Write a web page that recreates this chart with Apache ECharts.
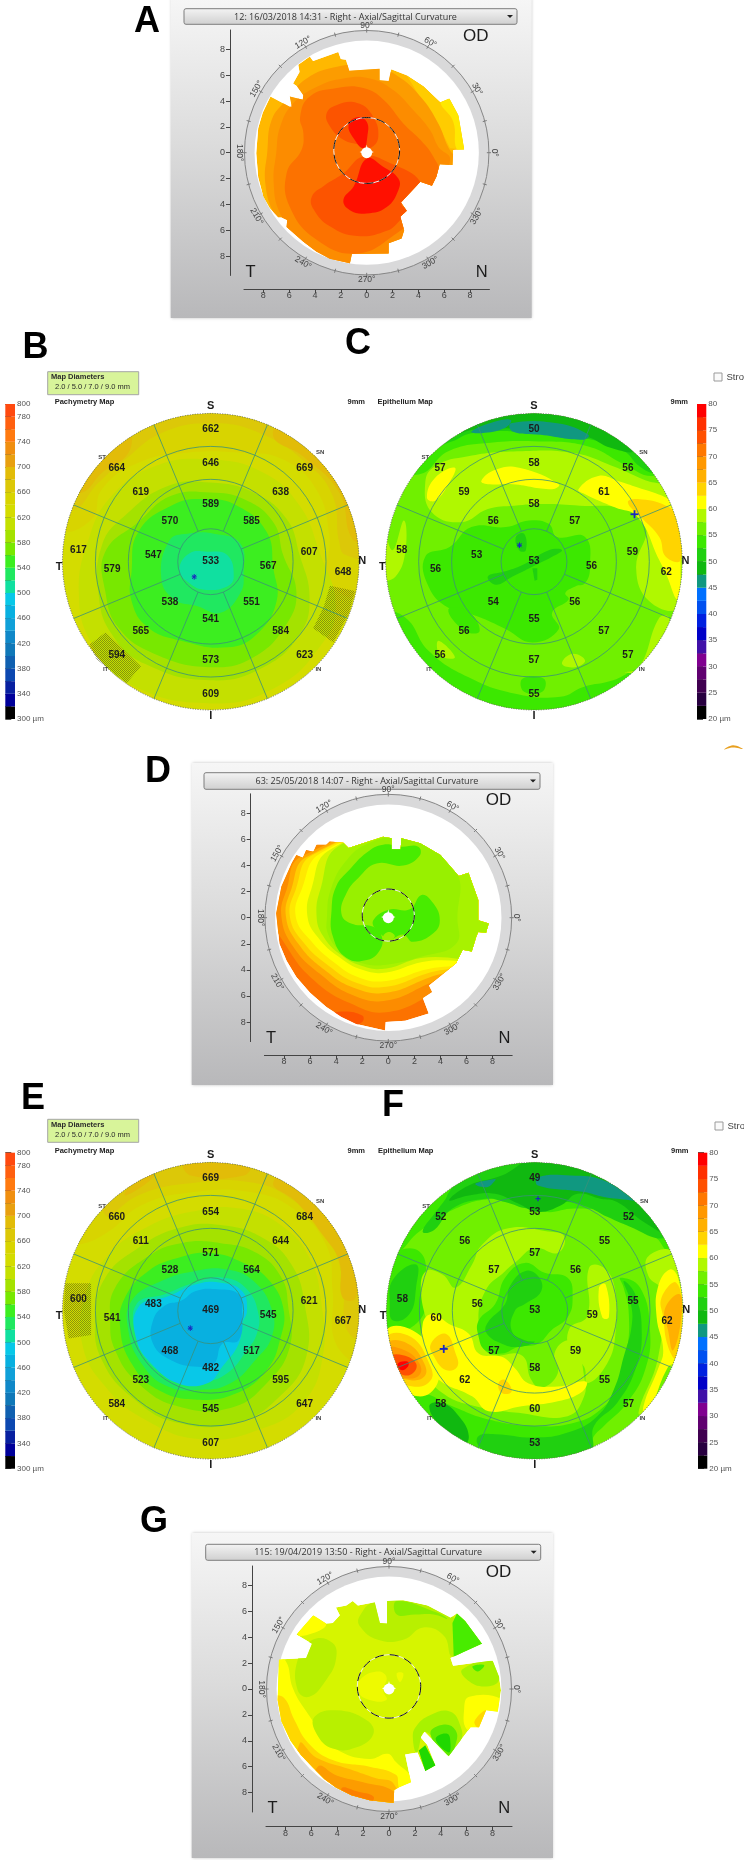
<!DOCTYPE html>
<html><head><meta charset="utf-8">
<style>html,body{margin:0;padding:0;background:#fff}#c{width:744px;height:1860px}</style>
<script src="https://cdn.jsdelivr.net/npm/echarts@6/dist/echarts.min.js"></script>
</head><body><div id="c"></div>
<script>
// ---------- scales ----------
const pachyLevels=[300,320,340,360,380,400,420,440,460,480,500,520,540,560,580,600,620,640,660,680,700,720,740,760,780];
const pachyShades=['#000000','#00009a','#0820a0','#0c48b0','#1060b0','#1078b8','#1088c8','#10a0d8','#08b0e0','#08c8e8','#10e0a0','#20e860','#3cee20','#78e800','#a4e200','#c4e000','#d4dc00','#d8d400','#dcc808','#e2bc08','#e8a010','#f08f10','#ff7a10','#ff6010','#ff4a10'];
const epiLevels=[20,22.5,25,27.5,30,32.5,35,37.5,40,42.5,45,47.5,50,52.5,55,57.5,60,62.5,65,67.5,70,72.5,75,77.5];
const epiShades=['#000000','#280040','#400050','#600070','#800090','#4010a8','#0000c8','#0020e0','#0050f0','#0070ff','#109880','#10b810','#20d010','#3ce800','#70f000','#b0f800','#ffff00','#ffd400','#ffb000','#ff9800','#ff7800','#ff5000','#ff3000','#ff0000'];
const curvLevels=[36,37,38,39,40,41,42,43,44,45,46,47,48,49,50,51,52,53,54,55,56];
const curvShades=['#20d800','#48ec00','#60ea00','#88ee00','#98f000','#a8f200','#b8f000','#d6f500','#eefa00','#ffff00','#ffe800','#ffd800','#ffcc00','#ffb800','#ffa800','#fc9c00','#fc8c00','#fc8000','#fc7200','#fc5400','#ff1000'];
const pachyTickLabels=[800,780,740,700,660,620,580,540,500,460,420,380,340,300];
const epiTickLabels=[80,75,70,65,60,55,50,45,40,35,30,25,20];
const axisEven=[-8,-6,-4,-2,0,2,4,6,8];
const axisOdd=[-9,-7,-5,-3,-1,1,3,5,7,9];
const ringAngles=[0,30,60,90,120,150,180,210,240,270,300,330];
const ringTicks=[0,15,30,45,60,75,90,105,120,135,150,165,180,195,210,225,240,255,270,285,300,315,330,345];
const centerStar=[[0,.62],[.1,.22],[.55,.06],[.2,-.1],[.2,-.3],[-.2,-.3],[-.2,-.1],[-.55,.06],[-.1,.22]];

// ---------- sector readings (clockwise from S: S, SN, N, IN, I, IT, T, ST) ----------
const B_center=533, B_inner=[589,585,567,551,541,538,547,570], B_mid=[646,638,607,584,573,565,579,619], B_outer=[662,669,648,623,609,594,617,664];
const C_center=53, C_inner=[58,57,56,56,55,54,53,56], C_mid=[58,61,59,57,57,56,56,59], C_outer=[50,56,62,57,55,56,58,57];
const E_center=469, E_inner=[571,564,545,517,482,468,483,528], E_mid=[654,644,621,595,545,523,541,611], E_outer=[669,684,667,647,607,584,600,660];
const F_center=53, F_inner=[57,56,59,59,58,57,56,57], F_mid=[53,55,55,55,60,62,60,56], F_outer=[49,52,62,57,53,58,58,52];

// ---------- A: curvature contours in mm ----------
const A_scan=[[-2.2,7.8],[-2,7.25],[-1.6,7.2],[-1.35,6.35],[1,6.5],[1,5.6],[1.7,5.55],[1.9,6.45],[3.1,6],[4.4,5.15],[5.7,3.9],[6.4,4.2],[7.1,2.9],[7.55,.25],[6.7,.2],[6.65,-.95],[5.65,-.9],[5.4,-1.85],[5.05,-2.55],[4.15,-2.25],[2.65,-3.85],[3.1,-4.5],[2.6,-4.95],[2.9,-6],[2.7,-6.65],[1.7,-7],[1.7,-7.8],[-1.15,-7.85],[-1.3,-8.55],[-2.85,-8.2],[-3.9,-7.65],[-4.9,-6.9],[-6.2,-5.75],[-6.15,-5.2],[-6.6,-5],[-6.85,-5],[-7.5,-4.3],[-8,-3.4],[-8.4,-1.9],[-8.55,-.05],[-8.4,1.9],[-8.05,3.1],[-7.45,4.35],[-5.95,3.55],[-5.8,3.55],[-5.95,4.35],[-4.95,4.1],[-4.9,4.45],[-5.4,5.15],[-5.7,5.35],[-5.2,6.25],[-5.3,6.8],[-4.4,7.45],[-4.15,7.1]];
const A_gold=[[3.1,6],[4.4,5.15],[5.7,3.9],[6.4,4.2],[7.1,2.9],[7.55,.25],[6.45,.35],[5.55,2.15],[4.15,4.25]];
const A_yellow=[[5.7,3.9],[6.4,4.2],[7.1,2.9],[7.55,.25],[6.95,.3],[6.7,2.4]];
const A_c1=[[-7.7,0],[-7.35,2.55],[-6.2,4.1],[-4.65,5.75],[-2.3,6.65],[.25,6.8],[2.3,6],[4.15,4.35],[5.55,2.25],[6.3,.45],[7.5,-1.6],[4.9,-6.25],[-.25,-9.35],[-5.4,-7.8],[-7.2,-4.7],[-7.85,-2.35]];
const A_c2=[[-7,0],[-6.7,2],[-5.7,3.8],[-3.85,5.1],[-1.8,5.75],[.25,5.75],[2.05,4.85],[3.6,3.3],[4.9,1.75],[5.55,.45],[6.45,-.55],[4.9,-4.7],[-.25,-9.35],[-4.9,-7.3],[-6.7,-4.7],[-7.2,-2.35]];
const A_c3=[[-5.05,.2],[-4.9,1.5],[-5.15,2.8],[-4.4,4.35],[-2.3,5],[-.25,5],[1.3,4.1],[2.85,2.25],[4.15,1],[5.15,-.3],[5.55,-1.6],[3.85,-4.7],[2.3,-6.25],[-.75,-7.8],[-3.85,-6.75],[-5.95,-4.2],[-6.2,-1.6]];
const A_c4up=[[-3.1,3.05],[-2.3,3.7],[-.75,3.85],[.4,2.95],[.9,1.25],[.25,.35],[-.5,.6],[-1.8,1],[-2.85,2.05]];
const A_c4low=[[-4.25,-3.4],[-3.35,-2.6],[-1.8,-1.6],[-.25,-.3],[1.8,-.8],[4.15,-2.25],[3.6,-3.4],[2.7,-3.95],[3.1,-4.55],[2.6,-5.2],[1.55,-6.05],[-.75,-6.45],[-2.85,-5.7],[-4.1,-4.4]];
const A_c5up=[[-1.4,2.15],[-.75,2.75],[0,2.4],[.05,1.25],[-.25,.35],[-1,1.1]];
const A_c5low=[[-1.8,-3.65],[-1,-2.6],[0,-.45],[1.3,-1.1],[2.45,-2],[2.45,-2.9],[1.55,-4.2],[0,-4.7],[-1.3,-4.45]];

// ---------- D ----------
const D_scan=[[-7.05,4.8],[-6.55,4.6],[-6.3,5.2],[-5.75,5.05],[-5.5,5.6],[-4.75,5.6],[-4.5,5.85],[-3.45,5.75],[-3.05,5.35],[-.4,6.2],[.25,6.1],[.25,5.25],[.95,5.25],[1,6.1],[2.45,5.7],[4,4.8],[5.4,3.2],[6.15,3.45],[6.9,1.35],[6.9,-.2],[7.7,-.45],[7.5,-1.15],[6.9,-1.1],[6.75,-1.45],[6.4,-2.6],[5.7,-2.45],[5.2,-3.5],[3.1,-5.2],[3.35,-5.7],[2.65,-6.15],[3.1,-7.35],[1.3,-7.9],[-.2,-8],[-.25,-8.65],[-2.45,-8.15],[-3.6,-7.6],[-4.75,-6.85],[-6,-5.75],[-7.05,-4.55],[-7.8,-3.3],[-8.35,-2],[-8.6,.35],[-8.2,2.4],[-7.4,4.2]];
const D_deep=[[-3.6,-7.2],[-2,-7.5],[-2,-8],[-3,-8.3],[-4.5,-7.6]];
const D_k1=[[-8.85,.1],[-8.35,2.15],[-6.95,4.95],[3.7,7.75],[8.85,5.2],[8.85,-2.5],[3.45,-5.8],[-.15,-7.25],[-2.95,-6.55],[-5.75,-4.75],[-7.8,-2.2]];
const D_k2=[[-8.2,.1],[-7.8,2.15],[-6.65,4.7],[3.7,7.75],[8.85,5.2],[8.85,-2.5],[3.2,-5],[-.15,-6.35],[-2.7,-5.95],[-5.25,-4.3],[-7.3,-2.2]];
const D_k3=[[-7.85,.1],[-7.45,2.15],[-6.2,4.7],[3.7,7.75],[8.85,5.2],[8.85,-2.5],[3.1,-4.6],[-.15,-5.75],[-2.6,-5.4],[-4.9,-4],[-6.9,-2]];
const D_k4=[[-7.55,.1],[-7.1,2.15],[-5.8,4.8],[3.7,7.75],[8.85,5.2],[8.85,-2.5],[2.9,-4.3],[-.15,-5.3],[-2.4,-5],[-4.55,-3.7],[-6.5,-1.9]];
const D_k5=[[-7.1,.1],[-6.65,2.15],[-5.1,5],[3.7,7.75],[8.85,5.2],[8.85,-2.5],[2.8,-4],[-.15,-4.85],[-2.2,-4.6],[-4.2,-3.4],[-6,-1.7]];
const D_k6=[[-6.2,.1],[-5.9,2.2],[-4.5,5.2],[3.7,7.75],[8.85,5.2],[8.85,-2.5],[2.6,-3.4],[-.15,-4.2],[-2,-4],[-3.8,-3],[-5.4,-1.5]];
const D_k7=[[-5.5,.1],[-5.2,2.2],[-3.8,5.5],[3.7,7.75],[8.85,5.2],[8.85,-2.5],[2.5,-3.1],[-.15,-3.9],[-2,-3.7],[-3.7,-2.8],[-5,-1.4]];
const D_k8=[[-4.7,.1],[-4.4,2.2],[-3.2,4.4],[-1.5,5.7],[1,6.2],[3,5.6],[5.3,3.4],[5.3,0],[5.2,-2],[2.5,-3],[-.15,-3.6],[-2,-3.5],[-3.6,-2.6],[-4.6,-1.3]];
const D_arc=[[1,5.45],[2.3,5.45],[2.4,4.75],[1.15,4],[-.9,4.15],[-2.3,3.05],[-3.2,1.9],[-3.6,.35],[-2.85,-.45],[-1.15,-.7],[-.5,-1.45],[-.65,-2.5],[-1.65,-3.25],[-3.2,-3.1],[-4.25,-1.45],[-4.35,.6],[-4,2.4],[-3,3.65],[-1.65,5],[-.4,5.6]];
const D_blob=[[0,.6],[1.65,.65],[2.55,1.75],[3.45,1.1],[3.95,-.2],[3.45,-1.2],[1.9,-1.85],[1.15,-1.3],[.15,-1.6],[-.9,-.95],[-1.15,-.2]];
const D_spot=[[0,-1.1],[.5,-1.4],[.1,-1.7],[-.4,-1.5]];

// ---------- G ----------
const G_scan=[[-.15,6.8],[1.1,6.85],[2.95,6.45],[4.75,5.5],[5.25,5.85],[5.9,5.25],[7.2,3.5],[4.75,2.4],[4.95,1.8],[8,2.2],[8.5,.95],[8.65,-.1],[8.4,-1.75],[7.5,-1.65],[6.95,-2.95],[6.3,-2.95],[4.6,-5.2],[2.75,-3.3],[2.45,-3.75],[2.95,-4.3],[3.6,-5.9],[2.8,-6.35],[2.2,-4.9],[1.25,-5.05],[1.7,-7.2],[.75,-7.6],[.4,-7.8],[.35,-8.8],[-1.5,-8.6],[-2.9,-8.2],[-4.1,-7.6],[-5,-6.95],[-5.9,-6.05],[-6.8,-5.1],[-7.6,-4],[-8.3,-2.5],[-8.6,-.85],[-8.5,2.25],[-8.2,2.3],[-6.4,2.4],[-5.95,3.5],[-7.15,4.2],[-5.85,5.7],[-4.85,5.05],[-4.35,5.1],[-3.8,5.7],[-4.1,6.3],[-3.3,6.45],[-2.8,6.8],[-2.4,6.45],[-1.1,6.7],[-.7,5.1],[-.15,5.05]];
const G_y1=[[-8.9,2.3],[-8,2.2],[-7.4,0],[-6.2,-2],[-5,-3.6],[-3.8,-4.8],[-1.5,-5.4],[-.1,-5],[.5,-5.6],[1.8,-7],[1.8,-9],[-9,-9]];
const G_o1=[[-8.9,-.7],[-8.1,-.7],[-7.3,-2.4],[-6.2,-4.2],[-4.3,-5.5],[-1.5,-6],[.5,-6.6],[.7,-7.3],[.7,-9],[-9,-9]];
const G_o2=[[-6.9,-4.2],[-5.6,-5.3],[-3,-6.2],[-1,-6.9],[.35,-7.3],[.5,-9],[-7,-9]];
const G_o3=[[-5.5,-6],[-4,-6.7],[-2,-7.2],[.35,-7.9],[.5,-9],[-6,-9]];
const G_o4=[[-3.6,-7.6],[-2.5,-7.9],[-1.2,-8.3],[-1.5,-8.8],[-3.5,-8.2]];
const G_l1=[[-5.9,3.8],[-4.35,3.55],[-4.1,2.25],[-4.85,.7],[-6.15,-.6],[-7.05,-.1],[-7.05,2.25]];
const G_l2=[[-5.75,-2.15],[-4.05,-1.65],[-1.75,-2.4],[-1.2,-3.45],[-2.5,-4.5],[-4.35,-4.6],[-5.6,-3.45]];
const G_l3=[[-2.25,5.65],[-1.1,6.7],[2.95,6.45],[5.55,5.1],[6.3,3.8],[4.9,2.5],[4.25,4.1],[2.65,4.75],[1.1,3.8],[-.85,3.8],[-2.25,4.85]];
const G_l4=[[.6,6.8],[3.7,5.9],[4.5,5.4],[3.45,5.75],[2,5.75],[.6,5.75]];
const G_g1=[[4.9,5.1],[5.25,5.85],[5.9,5.25],[7.2,3.5],[5,2.45]];
const G_r1=[[5.65,1.5],[8,2.15],[8.5,.7],[7.35,.2],[6.05,.7]];
const G_r2=[[6.45,1.75],[7.35,1.85],[6.85,1.35]];
const G_b1=[[2.05,-2.95],[3.2,-2],[4.75,-1.75],[5.55,-2.95],[5.55,-4],[4.6,-5.25],[2.8,-3.3],[2.15,-4.9],[1.85,-3.9]];
const G_b2=[[3.2,-3.45],[4.25,-2.75],[5.15,-3.2],[5.15,-4.25],[4.6,-5.15]];
const G_b3=[[3.6,-3.85],[4.5,-3.45],[4.75,-4.25],[4.6,-4.9]];
const G_w1=[[2.3,-4.75],[2.8,-4.35],[3.6,-5.9],[2.8,-6.35]];
const G_ry=[[6.2,-.6],[8.7,-.8],[8.5,-1.9],[6.95,-3.05],[6,-3.1],[5.8,-1.6]];
const G_ro=[[7.5,-1.65],[7,-3],[6.6,-2.5]];
const G_cy=[[-2.25,.7],[-.95,1.35],[-.2,.95],[-.45,-.1],[-.2,-.85],[-1.5,-.85],[-2.4,-.2]];
const G_cy2=[[.6,1.2],[1.1,1.2],[.85,.55]];
const G_uy=[[-7.05,4.2],[-5.9,5.65],[-4.85,5],[-5.9,4.3]];

// ---------- B: pachymetry contours ----------
const B_g1=[[-4.5,1],[-3.6,1.3],[-3.3,2.2],[-2.2,3],[-.8,3.3],[1,3.3],[2.2,3.1],[3.2,2.2],[3.6,.8],[3.6,-.6],[4.6,-1],[5,3],[0,5],[-5,3]];
const B_g2=[[-4.2,1.6],[-3.4,2.4],[-2.6,3.1],[-1.5,3.9],[0,4.2],[1.5,3.9],[2.9,3],[3.7,2],[3.9,.6],[4.1,.2],[5,.2],[5,3],[0,5],[-5,3]];
const B_g3a=[[-3.9,2.1],[-3.3,2.7],[-2.5,3.3],[-2.5,3.9],[-3.6,3.4],[-4.4,2.3]];
const B_g3b=[[1.9,3.8],[2.8,3.2],[3.9,2.1],[4.3,.7],[4.8,.7],[4.6,3],[2.4,4.4]];
const B_p1=[[3.3,.3],[2.7,1.7],[1.6,2.7],[0,3.1],[-1.7,2.9],[-3,2],[-3.7,.7],[-4,-1],[-3.6,-2.5],[-2.5,-3.7],[0,-4.3],[2,-3.8],[3.3,-2.6],[3.8,-1.4]];
const B_p2=[[2.7,.2],[2.3,1.3],[1.3,2.1],[0,2.4],[-1.3,2.3],[-2.6,1.4],[-3.3,.5],[-3.4,-1],[-3,-2.2],[-2,-3.1],[0,-3.6],[1.6,-3.2],[2.7,-2.2],[3,-1.1]];
const B_p3=[[2.2,.2],[1.9,1.2],[1,1.9],[0,2.1],[-1.2,2],[-2.2,1.2],[-3.2,.3],[-3.2,-.9],[-2.8,-2],[-1.7,-2.8],[0,-3.2],[1.3,-2.9],[2.3,-1.9],[2.6,-.9]];
const B_p4=[[1.9,-.2],[1.7,.9],[.8,1.7],[-.2,1.9],[-1.2,1.7],[-2.2,.9],[-2.4,-.3],[-2.4,-1.2],[-1.9,-2],[-.9,-2.4],[.5,-2.6],[1.4,-2.2],[2,-1.2]];
const B_p5=[[-1.25,.65],[-.7,.85],[.1,.85],[.9,.55],[1,-.35],[.9,-.95],[.3,-1.55],[-.4,-1.35],[-1.1,-1.15],[-1.5,-.5]];
const B_p6=[[-.65,.25],[-.1,.3],[.5,.2],[.7,-.45],[.5,-.75],[-.2,-.85],[-.65,-.65],[-.95,-.25]];
const B_hatchN=[[3.62,-.73],[4.38,-.89],[4.2,-1.56],[3.72,-2.45],[3.11,-2.02],[3.43,-1.37]];
const B_hatchI=[[-3.19,-2.14],[-2.12,-3.18],[-2.55,-3.68],[-3.46,-2.97],[-3.68,-2.52]];

// ---------- C: epithelium contours ----------
const C_t1=[[-3.5,2.65],[-2.6,3.35],[-1.4,3.6],[.15,3.65],[1.65,3.5],[2.75,2.95],[3.6,2.6],[5,3],[3,5],[-3,5],[-5,3]];
const C_t2=[[-2.5,3.65],[-1.9,3.9],[-.45,3.95],[1.15,3.8],[2.15,3.6],[2.75,3.35],[3.2,2.9],[3.7,2.7],[5,3],[3,5],[-3,5],[-3.2,3.5]];
const C_t3=[[-2.75,3.7],[-1.9,4],[-.85,4.05],[1.55,3.8],[2.35,3.45],[3,3.4],[2,5],[-1,5],[-1.9,4.4]];
const C_te1=[[-1.9,3.95],[-1.2,4.25],[-.7,4.3],[-.9,4.05],[-1.6,3.9]];
const C_te2=[[-.7,4.2],[.7,4.2],[1.65,3.85],[1.5,3.7],[.2,3.85],[-.65,3.95]];
const C_bot=[[-4.6,-1.6],[-3.9,-1.7],[-3.2,-2.7],[-2,-3.5],[-.6,-4],[.8,-4.1],[1.5,-3.8],[2.4,-3.6],[3,-3.3],[3.7,-3],[5,-3],[0,-5],[-5,-3]];
const C_y1a=[[-3.1,1.5],[-3.3,2.4],[-3,2.9],[-2,3.2],[-.5,3.35],[1.2,3.3],[2.4,2.9],[3.3,2.5],[4.2,2.1],[4.6,0],[4.4,-1.4],[3.5,-1.2],[3.1,-.2],[3.4,1.1],[2.7,1.6],[1.4,1.7],[.3,1.75],[-.6,1.7],[-1.4,1.6],[-2.2,1.2]];
const C_y1b=[[-4.3,.35],[-3.95,1.25],[-3.9,.35],[-4.2,-.45],[-4.6,-.5],[-4.6,1.3]];
const C_y1c=[[.85,-3.1],[1.15,-2.8],[1.55,-3],[1.25,-3.2]];
const C_y1d=[[-2.9,-2.4],[-2.4,-2.9],[-2.85,-2.85]];
const C_y1e=[[2.75,-3.35],[3.2,-3.2],[3.8,-1.7],[4.1,-1.7],[3.9,-2.6],[3.4,-3.3]];
const C_y2a=[[-3.25,1.95],[-3,2.55],[-2.4,2.85],[-2.6,2.35],[-3,1.85]];
const C_y2b=[[-1.6,2.45],[-1.15,2.8],[-.45,2.85],[.75,2.35],[.55,2.2],[-.65,2.35],[-1.35,2.35]];
const C_y2c=[[1.35,2.2],[1.95,2.6],[2.55,2.45],[3.15,2.25],[4,1.95],[4.15,1.8],[4.35,1.45],[4.45,-.55],[4.35,-1.15],[4,-.35],[3.8,.05],[3.15,1.35],[2.45,1.65],[1.55,2.05]];
const C_gold=[[2.85,1.8],[3.15,1.9],[4,1.7],[4.35,1.35],[4.45,.05],[4,.15],[3.8,.75],[3.25,1.35]];
const C_mid1=[[-2.55,.45],[-1.9,1.05],[-.85,1.05],[-.15,1.25],[.45,1.15],[.7,.75],[1.55,.75],[1.7,-.15],[1.55,-.65],[1.25,-.75],[.95,-.95],[1.05,-1.15],[.55,-1.55],[.75,-2.05],[-.05,-2.45],[-.85,-2.05],[-1.75,-1.65],[-2.6,-1.4],[-3.2,-.75],[-3.3,.15]];
const C_mid2=[[-2.6,-1.45],[-2,-1.5],[-1.65,-2.1],[-2.1,-2.1]];
const C_mid3=[[-.35,-3.55],[.3,-3.55],[.25,-3.95],[-.3,-3.95]];
const C_core1=[[-1.4,-.45],[-.9,-.3],[-.35,-.1],[.45,.35],[.85,.35],[.55,.15],[-.05,-.15],[-.65,-.45],[-1.15,-.7]];
const C_core2=[[-.05,-.2],[.1,-.2],[.1,-.55],[.02,-.58]];
const C_core3=[[-.55,.75],[-.3,.85],[-.25,.35],[-.45,.35]];

// ---------- E ----------
const E_g2=[[-4,2],[-3.1,2.4],[-2.1,3.2],[-.5,3.6],[1.2,3.6],[2.5,3.1],[3.5,2],[3.7,.6],[3.8,-1],[4.6,-1.5],[5,2],[0,5],[-5,2]];
const E_g3=[[-3.2,2.9],[-2.2,3.5],[-.8,3.85],[1.2,3.9],[2.5,3.35],[3.5,2.3],[4,1],[4.1,-.5],[4.5,-.8],[5,3],[0,5],[-3,4.4]];
const E_g4a=[[1.9,3.9],[2.6,3.3],[3.4,2.3],[3.9,1.5],[4,.4],[4.4,.4],[4.5,2.5],[3,4.5]];
const E_g4b=[[-1.7,4.1],[-2.6,3.5],[-2.1,4.2]];
const E_g4c=[[-.6,4.1],[1,4.1],[1.2,4.5],[-.8,4.5]];
const E_c1=[[3.35,.3],[3,1.6],[2.2,2.55],[.9,3.1],[-.6,3],[-2,2.5],[-3.1,1.7],[-3.8,.5],[-3.9,-1],[-3.2,-2.3],[-2,-3.3],[-.3,-3.9],[1.5,-3.6],[2.8,-2.8],[3.4,-1.4]];
const E_c2=[[2.85,.2],[2.45,1.4],[1.6,2.2],[.3,2.6],[-1,2.5],[-2.2,1.9],[-3.2,1],[-3.5,-.2],[-3.3,-1.5],[-2.3,-2.7],[-1,-3.4],[.8,-3.4],[2.1,-2.6],[2.9,-1.4]];
const E_c3=[[2.35,.15],[2.15,1],[1.4,1.75],[.3,2.05],[-.9,2.05],[-1.9,1.65],[-2.9,.7],[-3.05,-.3],[-2.9,-1.2],[-2.2,-2.2],[-1,-2.9],[.6,-2.95],[1.7,-2.2],[2.4,-1.1]];
const E_c4=[[2.2,.1],[1.7,1],[1,1.45],[0,1.75],[-1,1.6],[-1.9,1.2],[-2.6,.4],[-2.75,-.5],[-2.4,-1.6],[-1.6,-2.4],[-.4,-2.7],[.8,-2.5],[1.7,-1.8],[2.1,-.9]];
const E_c5=[[1.85,.05],[1.3,.9],[.5,1.25],[-.5,1.2],[-1.5,.9],[-2.4,.3],[-2.5,-.6],[-2.1,-1.6],[-1.3,-2.3],[-.3,-2.4],[.6,-2.2],[1.35,-1.5],[1.85,-.8]];
const E_c6=[[1.45,-.1],[1.1,.65],[.4,1],[-.5,.85],[-1.4,.5],[-2.25,.2],[-2.25,-.8],[-1.85,-1.6],[-1.1,-2.05],[-.2,-2.15],[.5,-1.9],[1.1,-1.2],[1.4,-.7]];
const E_c7=[[1.1,0],[.95,.6],[.3,.85],[-.45,.8],[-1.25,.45],[-2.2,.1],[-2.25,-.9],[-1.8,-1.6],[-1,-2.2],[-.1,-2.2],[.35,-1.7],[.85,-1],[.95,-.4]];
const E_c8=[[.95,0],[.85,.5],[.2,.65],[-.45,.6],[-.9,.3],[-1.4,.15],[-1.75,-.3],[-1.75,-1],[-1.2,-1.5],[-.4,-1.7],[.1,-1.6],[.35,-1],[.85,-.9]];
const E_hatchT=[[-4.41,.83],[-3.63,.83],[-3.63,-.74],[-4.31,-.84],[-4.46,.02]];

// ---------- F ----------
const F_t1=[[-4.3,1.7],[-3.5,2.4],[-2.4,3.1],[-1.3,3.4],[-.5,3.3],[.3,3],[1.2,3.1],[2.2,3],[3,2.7],[3.7,2.2],[4.1,1.8],[5,2],[3,5],[-3,5],[-5,2]];
const F_t2=[[-3.4,2.4],[-3,3],[-2.7,3.4],[-2.6,3.6],[-2.3,3.9],[0,4.6],[3,3.5],[4,2.3],[3.7,2.2],[3,2.5],[2.2,2.85],[1.6,3.15],[.9,3.3],[.5,3.15],[-.2,3.1],[-.9,3.3],[-1.5,3.4],[-2.5,3.1],[-3.05,2.45]];
const F_t3=[[-2.6,3.35],[-2,3.8],[-1,4.1],[0,4.6],[2,4.4],[3.2,3.4],[3.9,2.4],[3.3,2.7],[2.5,3.3],[2,3.4],[1.3,3.55],[.8,3.2],[.1,3],[-.5,3.25],[-1.2,3.55],[-2,3.5]];
const F_te1=[[-1.8,3.85],[-1.2,4],[-1.2,3.95],[-1.45,3.75]];
const F_te2=[[.1,4.05],[1.1,4.1],[2.1,3.95],[3.2,3.3],[2.9,3.35],[2.1,3.45],[1.5,3.6],[.1,3.8]];
const F_lh=[[-4.5,.3],[-4.4,1.6],[-3.5,1.8],[-3.3,.7],[-3.5,-.3],[-4.4,-.6]];
const F_ld=[[-4.4,.2],[-4.3,.95],[-3.6,1.4],[-3.6,.7],[-3.8,-.1],[-4.3,-.3]];
const F_band1=[[2.6,1],[3.2,.7],[3.5,-.6],[3.35,-1.8],[2.8,-2.8],[2.1,-3.5],[1.75,-3.9],[1.6,-4.6],[0,-5],[-2,-5],[-3.5,-4],[-3.9,-2.6],[-3.4,-2.5],[-2.5,-2.9],[-1.4,-3.3],[0,-3.5],[1.2,-3.4],[2,-3],[2.5,-2.3],[2.8,-1.2],[2.85,0],[2.7,.7]];
const F_band2=[[2.7,.9],[3.05,.5],[3.25,-.7],[3.05,-1.8],[2.5,-2.8],[1.8,-3.5],[1.7,-4.3],[.8,-4.6],[-1,-4.5],[-1.7,-4.1],[-1.7,-3.8],[-1.2,-3.75],[0,-3.85],[1,-3.7],[1.9,-3.2],[2.4,-2.4],[2.7,-1.4],[2.95,-.4],[2.9,.3]];
const F_band3=[[-3.2,-2.9],[-2.8,-2.8],[-2.3,-3.2],[-2,-3.8],[-2.2,-4.1],[-2.8,-3.6]];
const F_b1=[[-3.45,.55],[-3.3,1.2],[-2.8,1.1],[-2.4,.7],[-1.9,1.4],[-1.6,2],[-.8,2.5],[.4,2.4],[.9,2.25],[.7,1.75],[0,1.9],[-.55,1.5],[-.9,1.2],[-1.5,.6],[-1.7,-.4],[-1.4,-1.3],[-.4,-1.35],[-.1,-2.1],[.2,-2.35],[.7,-1.9],[.6,-1.3],[1,-.9],[1.3,-1.2],[1.5,-2],[1.5,-2.6],[1,-3.2],[-.5,-3.1],[-1.8,-2.9],[-2.8,-2.5],[-3.3,-1.8],[-3.2,-.8]];
const F_b2=[[1.05,-.55],[1.6,-.15],[1.65,1.3],[2.1,1.3],[2.45,.6],[2.45,-.7],[2.2,-1.6],[1.6,-2.2],[1.5,-1.7],[1.1,-1.3]];
const F_b3=[[3.45,1.65],[4.2,1.75],[4.45,-.4],[4.2,-1.7],[3.9,-1.7],[3.45,-3],[3.15,-3.1],[3.75,-1.4],[3.85,.6],[3.45,1.05]];
const F_y1=[[-3.4,-.4],[-3.1,-.1],[-2.6,-.4],[-2,-.7],[-1.7,-1.3],[-1,-1.4],[-.6,-1.75],[-.2,-2.2],[.7,-2.3],[1.55,-2.15],[1.45,-2.45],[.7,-2.75],[-.4,-2.9],[-1.4,-3.05],[-1.9,-2.6],[-2.9,-2.1],[-3.3,-1.5]];
const F_h1=[[-4.5,-.6],[-3.7,-.6],[-3.05,-1.4],[-2.95,-2.2],[-3.55,-2.6],[-4.5,-2]];
const F_h2=[[-4.5,-.8],[-3.75,-.8],[-3.2,-1.6],[-3.15,-2.1],[-3.7,-2.3],[-4.5,-1.9]];
const F_h3=[[-4.5,-1],[-3.85,-1],[-3.35,-1.6],[-3.35,-2],[-3.8,-2.1],[-4.5,-1.8]];
const F_h4=[[-4.5,-1.15],[-3.95,-1.2],[-3.5,-1.6],[-3.5,-1.95],[-3.9,-2.05],[-4.3,-1.85]];
const F_h5=[[-4.4,-1.4],[-4,-1.35],[-3.6,-1.6],[-3.7,-1.9],[-4,-1.95],[-4.2,-1.75]];
const F_h6=[[-4.15,-1.6],[-3.85,-1.55],[-3.85,-1.7],[-4.05,-1.8]];
const F_g1=[[-3.15,-1],[-2.7,-.7],[-2.4,-1.3],[-2.35,-1.7],[-2.7,-1.8],[-3.05,-1.4]];
const F_g2=[[-1.1,-2.2],[-.9,-2.1],[-.7,-2.45],[-1,-2.5]];
const F_ry=[[3.75,.75],[4.1,1.25],[4.35,1],[4.5,-.2],[4.3,-1.55],[4.05,-1.7],[3.55,-2.9],[3.35,-3.25],[3.3,-2.9],[3.75,-1.75],[3.9,-1.2],[3.7,-.2]];
const F_rg=[[3.85,.4],[4.3,.85],[4.47,-.2],[4.3,-1.45],[4.05,-1.1],[3.9,-.2]];
const F_ro=[[3.95,.05],[4.4,.5],[4.45,-.2],[4.2,-1.2],[4.05,-.6]];
const F_stripe=[[1.95,.7],[2.15,.8],[2.25,-.2],[2.05,-.2]];
const F_c1=[[-1.7,-.3],[-1.2,.2],[-.9,1],[-.3,1.45],[.3,1.15],[1,1],[1.15,.4],[1,-.2],[.5,-.6],[.1,-1],[-.5,-1.1],[-1,-1.3],[-1.5,-1.2],[-1.7,-.8]];
const F_c2=[[-1.45,-.4],[-.9,.2],[-.75,.75],[-.3,1.2],[.1,1.05],[.2,.6],[-.3,.2],[-.6,0],[-.7,-.6],[-.3,-.9],[0,-.95],[-.5,-1.1],[-1,-1],[-1.45,-.7]];

// ---------- band stacks: [level, contour, smooth?] ----------
const S=.45;
const A_bands=[[49,A_scan,0],[48,A_gold,0],[46,A_yellow,S],[51,A_c1,S],[52,A_c2,S],[54,A_c3,S],[55,A_c4up,S],[55,A_c4low,S],[56,A_c5up,S],[56,A_c5low,S]];
const D_bands=[[54,D_scan,0],[55,D_deep,S],[52,D_k1,S],[50,D_k2,S],[48,D_k3,S],[46,D_k4,S],[45,D_k5,S],[43,D_k6,S],[41,D_k7,S],[40,D_k8,S],[37,D_arc,S],[37,D_blob,S],[40,D_spot,S]];
const G_bands=[[43,G_scan,0],[45,G_y1,S],[47,G_o1,S],[49,G_o2,S],[51,G_o3,S],[53,G_o4,S],[45,G_uy,S],[42,G_l1,S],[42,G_l2,S],[42,G_l3,S],[39,G_l4,S],[37,G_g1,0],[41,G_r1,S],[37,G_r2,S],[41,G_b1,S],[38,G_b2,S],[36,G_b3,S],[36,G_w1,0],[45,G_ry,S],[47,G_ro,S],[44,G_cy,S],[44,G_cy2,S]];
const B_bands=[[640,B_g1,S],[660,B_g2,S],[680,B_g3a,S],[680,B_g3b,S],[600,B_p1,S],[580,B_p2,S],[560,B_p3,S],[540,B_p4,S],[520,B_p5,S],[500,B_p6,S]];
const C_bands=[[52.5,C_t1,S],[50,C_t2,S],[47.5,C_t3,S],[45,C_te1,S],[45,C_te2,S],[52.5,C_bot,S],[57.5,C_y1a,S],[57.5,C_y1b,S],[57.5,C_y1c,S],[57.5,C_y1d,S],[57.5,C_y1e,S],[60,C_y2a,S],[60,C_y2b,S],[60,C_y2c,S],[62.5,C_gold,S],[52.5,C_mid1,S],[52.5,C_mid2,S],[52.5,C_mid3,S],[50,C_core1,S],[50,C_core2,0],[50,C_core3,S]];
const E_bands=[[640,E_g2,S],[660,E_g3,S],[680,E_g4a,S],[680,E_g4b,S],[680,E_g4c,S],[600,E_c1,S],[580,E_c2,S],[560,E_c3,S],[540,E_c4,S],[520,E_c5,S],[500,E_c6,S],[480,E_c7,S],[460,E_c8,S]];
const F_bands=[[52.5,F_t1,S],[50,F_t2,S],[47.5,F_t3,S],[45,F_te1,S],[45,F_te2,S],[52.5,F_lh,S],[50,F_ld,S],[52.5,F_band1,S],[50,F_band2,S],[47.5,F_band3,S],[57.5,F_b1,S],[57.5,F_b2,S],[57.5,F_b3,S],[60,F_y1,S],[60,F_h1,S],[62.5,F_h2,S],[65,F_h3,S],[67.5,F_h4,S],[72.5,F_h5,S],[77.5,F_h6,S],[62.5,F_g1,S],[62.5,F_g2,S],[60,F_ry,S],[62.5,F_rg,S],[65,F_ro,S],[60,F_stripe,S],[52.5,F_c1,S],[50,F_c2,S]];

// ---------- markers (mm) ----------
const labelRadii=[1.75,3,4.03];
const labelAngles=[[90,45,-4.3,-45,-90,-135,174,135],[90,45,5.4,-45,-90,-135,184.4,135],[90,45,-4.6,-45,-90,-135,175,135]];
const sectorLineAngles=[22.5,67.5,112.5,157.5,202.5,247.5,292.5,337.5];
const ringRadii=[1,2.5,3.5];
const compassLetters=[['S',0,4.72],['I',0,-4.67],['T',-4.6,-.17],['N',4.6,.03]];
const quadrantLetters=[['ST',-3.3,3.18],['SN',3.32,3.31],['IT',-3.19,-3.28],['IN',3.27,-3.28]];

// ---------- helpers ----------
const FONT='"Liberation Sans",Arial,sans-serif';
const grids=[],xAxes=[],yAxes=[],series=[],graphic=[];
const ptsOf=(api,pts)=>pts.map(p=>api.coord(p));
const deg=a=>a*Math.PI/180;

function addCustom(g,n,render,z){
  series.push({type:'custom',coordinateSystem:'cartesian2d',xAxisIndex:g.x,yAxisIndex:g.y,silent:true,
    animation:false,z:z||2,data:Array.from({length:n},(_,i)=>[i,0]),renderItem:render});
}
function scaleColor(levels,shades,l){return shades[levels.indexOf(l)];}

function addText(x,y,text,o){
  graphic.push({type:'text',x,y,z:o&&o.z||1,silent:true,style:Object.assign({text,fill:'#222',font:'9px '+FONT,align:'left',verticalAlign:'middle'},o||{})});
}
function panelBack(x,y,w,h){
  graphic.push({type:'rect',x,y,z:-5,silent:true,shape:{width:w,height:h},style:{fill:{type:'linear',x:0,y:0,x2:0,y2:1,colorStops:[{offset:0,color:'#f6f6f6'},{offset:.45,color:'#dcdcdc'},{offset:1,color:'#b8b8ba'}]},shadowBlur:3,shadowColor:'rgba(0,0,0,.25)'}});
}
function dropdown(x,y,w,h,text){
  graphic.push({type:'rect',x,y,z:-4,silent:true,shape:{width:w,height:h,r:2},style:{fill:{type:'linear',x:0,y:0,x2:0,y2:1,colorStops:[{offset:0,color:'#f4f4f4'},{offset:1,color:'#cfcfcf'}]},stroke:'#7d7d7d',lineWidth:1}});
  addText(x+w*.485,y+h/2+.5,text,{align:'center',font:'9px "Open Sans",sans-serif',fill:'#333'});
  graphic.push({type:'polygon',z:1,silent:true,shape:{points:[[x+w-10,y+h/2-1.5],[x+w-4,y+h/2-1.5],[x+w-7,y+h/2+1.5]]},style:{fill:'#222'}});
}

// ---------- curvature panel ----------
function curvPanel(cx,cy,s,axX,axY,bands,dashR,dashY,scan){
  const half=9.5*s, gi=grids.length;
  grids.push({left:cx-half,top:cy-half,width:2*half,height:2*half,containLabel:false});
  const xi=xAxes.length, yi=yAxes.length;
  const line={lineStyle:{color:'#444',width:1}};
  const lbl={color:'#444',fontSize:9,fontFamily:FONT,formatter:v=>String(Math.abs(v))};
  xAxes.push({type:'value',gridIndex:gi,min:-9.5,max:9.5,position:'bottom',offset:axY-(cy+half),axisLine:Object.assign({show:true,onZero:false},line),axisTick:{show:true,customValues:axisEven,length:4,lineStyle:{color:'#444'}},axisLabel:Object.assign({customValues:axisEven,margin:2},lbl),splitLine:{show:false}});
  xAxes.push({type:'value',gridIndex:gi,min:-9.5,max:9.5,position:'bottom',offset:axY-(cy+half),axisLine:{show:false},axisTick:{show:true,customValues:axisOdd,length:2,lineStyle:{color:'#444'}},axisLabel:{show:false},splitLine:{show:false}});
  yAxes.push({type:'value',gridIndex:gi,min:-9.5,max:9.5,position:'left',offset:(cx-half)-axX,axisLine:Object.assign({show:true,onZero:false},line),axisTick:{show:true,customValues:axisEven,length:4,lineStyle:{color:'#444'}},axisLabel:Object.assign({customValues:axisEven,margin:5},lbl),splitLine:{show:false}});
  yAxes.push({type:'value',gridIndex:gi,min:-9.5,max:9.5,position:'left',offset:(cx-half)-axX,axisLine:{show:false},axisTick:{show:true,customValues:axisOdd,length:2,lineStyle:{color:'#444'}},axisLabel:{show:false},splitLine:{show:false}});
  const g={x:xi,y:yi};
  // ring and white disc
  addCustom(g,2,(p,api)=>{
    const c=api.coord([0,0]),u=api.size([1,0])[0];
    return p.dataIndex===0
      ?{type:'circle',shape:{cx:c[0],cy:c[1],r:9.46*u},style:{fill:'#d9d9da',stroke:'#868686',lineWidth:1}}
      :{type:'circle',shape:{cx:c[0],cy:c[1],r:8.68*u},style:{fill:'#fff'}};
  });
  // ring ticks
  addCustom(g,ringTicks.length,(p,api)=>{
    const a=deg(ringTicks[p.dataIndex]),i=api.coord([9.3*Math.cos(a),9.3*Math.sin(a)]),o=api.coord([9.62*Math.cos(a),9.62*Math.sin(a)]);
    return {type:'line',shape:{x1:i[0],y1:i[1],x2:o[0],y2:o[1]},style:{stroke:'#7a7a7a',lineWidth:1}};
  });
  // ring angle labels
  addCustom(g,ringAngles.length,(p,api)=>{
    const t=ringAngles[p.dataIndex],a=deg(t),q=api.coord([9.85*Math.cos(a),9.85*Math.sin(a)]);
    const rot=t===0?-90:t<180?t-90:t===180?-90:t-270;
    return {type:'text',x:q[0],y:q[1],rotation:deg(rot),style:{text:t+'°',fontSize:8.5,fontFamily:FONT,fill:'#444',align:'center',verticalAlign:'middle'}};
  },3);
  // contour bands, clipped to the scanned area
  addCustom(g,bands.length,(p,api)=>{
    const b=bands[p.dataIndex];
    return {type:'polygon',shape:{points:ptsOf(api,b[1]),smooth:b[2]},style:{fill:scaleColor(curvLevels,curvShades,b[0])},
      clipPath:{type:'polygon',shape:{points:ptsOf(api,scan)}}};
  });
  // central star, dashed circle
  addCustom(g,1,(p,api)=>({type:'group',children:[
    {type:'polygon',shape:{points:ptsOf(api,centerStar)},style:{fill:'#fff'}},
    {type:'circle',shape:{cx:api.coord([0,0])[0],cy:api.coord([0,0])[1],r:.42*api.size([1,0])[0]},style:{fill:'#fff'}},
    {type:'circle',shape:{cx:api.coord([0,dashY])[0],cy:api.coord([0,dashY])[1],r:dashR*api.size([1,0])[0]},style:{fill:'none',stroke:'#eee',lineWidth:1}},
    {type:'circle',shape:{cx:api.coord([0,dashY])[0],cy:api.coord([0,dashY])[1],r:dashR*api.size([1,0])[0]},style:{fill:'none',stroke:'#111',lineWidth:1,lineDash:[9,6]}}
  ]}),3);
  // OD, T, N
  addCustom(g,3,(p,api)=>{
    const L=[['OD',8.45,9],['T',-9,-9.25],['N',8.9,-9.25]][p.dataIndex],q=api.coord([L[1],L[2]]);
    return {type:'text',x:q[0],y:q[1],style:{text:L[0],fontSize:p.dataIndex===0?17:16.5,fontFamily:FONT,fill:'#1c1c1c',align:'center',verticalAlign:'middle'}};
  },3);
}

// ---------- colour bar ----------
function colorBar(left,top,h,w,levels,shades,step,labelled,unit){
  const gi=grids.length;
  grids.push({left,top,width:w,height:h});
  const xi=xAxes.length,yi=yAxes.length,lo=levels[0],hi=levels[levels.length-1]+step;
  xAxes.push({type:'value',gridIndex:gi,min:0,max:1,show:false});
  yAxes.push({type:'value',gridIndex:gi,min:lo,max:hi,interval:step,position:'right',
    axisLine:{show:false},axisTick:{show:true,length:6,lineStyle:{color:'#555'}},splitLine:{show:false},
    axisLabel:{show:true,margin:2,color:'#555',fontSize:8,fontFamily:FONT,interval:0,hideOverlap:false,
      formatter:v=>labelled.includes(v)?(v===lo?v+' '+unit:String(v)):''}});
  addCustom({x:xi,y:yi},levels.length,(p,api)=>{
    const l=levels[p.dataIndex],a=api.coord([0,l+step]),b=api.coord([1,l]);
    return {type:'rect',shape:{x:a[0],y:a[1],width:b[0]-a[0],height:b[1]-a[1]},style:{fill:shades[p.dataIndex]}};
  });
}

// ---------- sector map ----------
function sectorMap(cx,cy,base,bands,levels,shades,center,inner,mid,outer,hatches,markers){
  const s=32.95,half=4.5*s,gi=grids.length;
  grids.push({left:cx-half,top:cy-half,width:2*half,height:2*half});
  const xi=xAxes.length,yi=yAxes.length;
  xAxes.push({type:'value',gridIndex:gi,min:-4.5,max:4.5,show:false});
  yAxes.push({type:'value',gridIndex:gi,min:-4.5,max:4.5,show:false});
  const g={x:xi,y:yi};
  const disc=api=>{const c=api.coord([0,0]);return {type:'circle',shape:{cx:c[0],cy:c[1],r:4.5*api.size([1,0])[0]}};};
  addCustom(g,1,(p,api)=>Object.assign(disc(api),{style:{fill:scaleColor(levels,shades,base)}}));
  addCustom(g,bands.length,(p,api)=>{
    const b=bands[p.dataIndex];
    return {type:'polygon',shape:{points:ptsOf(api,b[1]),smooth:b[2]},style:{fill:scaleColor(levels,shades,b[0])},clipPath:disc(api)};
  });
  addCustom(g,hatches.length,(p,api)=>({type:'polygon',shape:{points:ptsOf(api,hatches[p.dataIndex])},style:{fill:{image:hatchTile(),repeat:'repeat'}}}));
  // rings
  addCustom(g,ringRadii.length+1,(p,api)=>{
    const c=api.coord([0,0]),u=api.size([1,0])[0],last=p.dataIndex===ringRadii.length;
    return {type:'circle',shape:{cx:c[0],cy:c[1],r:(last?4.5:ringRadii[p.dataIndex])*u},style:last?{fill:'none',stroke:'#666',lineWidth:1,lineDash:[1,1.5]}:{fill:'none',stroke:'#3a9078',lineWidth:.8}};
  },3);
  // sector lines
  addCustom(g,sectorLineAngles.length,(p,api)=>{
    const a=deg(sectorLineAngles[p.dataIndex]),i=api.coord([Math.cos(a),Math.sin(a)]),o=api.coord([4.5*Math.cos(a),4.5*Math.sin(a)]);
    return {type:'line',shape:{x1:i[0],y1:i[1],x2:o[0],y2:o[1]},style:{stroke:'#3a9078',lineWidth:.8}};
  },3);
  // values
  const vals=[[center,0,0]];
  [inner,mid,outer].forEach((arr,r)=>arr.forEach((v,i)=>{const a=deg(labelAngles[r][i]);vals.push([v,labelRadii[r]*Math.cos(a),labelRadii[r]*Math.sin(a)]);}));
  addCustom(g,vals.length,(p,api)=>{
    const v=vals[p.dataIndex],q=api.coord([v[1],v[2]]);
    return {type:'text',x:q[0],y:q[1],style:{text:String(v[0]),fontSize:10,fontWeight:'bold',fontFamily:FONT,fill:'#1c1c1c',align:'center',verticalAlign:'middle'}};
  },4);
  addCustom(g,compassLetters.length,(p,api)=>{
    const v=compassLetters[p.dataIndex],q=api.coord([v[1],v[2]]);
    return {type:'text',x:q[0],y:q[1],style:{text:v[0],fontSize:11,fontWeight:'bold',fontFamily:FONT,fill:'#1c1c1c',align:'center',verticalAlign:'middle'}};
  },4);
  addCustom(g,quadrantLetters.length,(p,api)=>{
    const v=quadrantLetters[p.dataIndex],q=api.coord([v[1],v[2]]);
    return {type:'text',x:q[0],y:q[1],style:{text:v[0],fontSize:6,fontWeight:'bold',fontFamily:FONT,fill:'#444',align:'center',verticalAlign:'middle'}};
  },4);
  // blue marks: [kind, x, y]
  addCustom(g,markers.length,(p,api)=>{
    const m=markers[p.dataIndex],q=api.coord([m[1],m[2]]),c='#1a28c0',L=(x1,y1,x2,y2,w)=>({type:'line',shape:{x1:q[0]+x1,y1:q[1]+y1,x2:q[0]+x2,y2:q[1]+y2},style:{stroke:c,lineWidth:w}});
    if(m[0]==='plus')return {type:'group',children:[L(-4,0,4,0,1.8),L(0,-4,0,4,1.8)]};
    if(m[0]==='tiny')return {type:'group',children:[L(-2.5,0,2.5,0,1.2),L(0,-2.5,0,2.5,1.2)]};
    return {type:'group',children:[L(-2.5,0,2.5,0,1),L(0,-2.8,0,2.8,1),L(-2,-2,2,2,1),L(-2,2,2,-2,1)]};
  },5);
}
let _tile=null;
function hatchTile(){
  if(_tile)return _tile;
  const c=document.createElement('canvas');c.width=c.height=2;
  const x=c.getContext('2d');x.fillStyle='rgba(70,80,20,.5)';x.fillRect(0,0,1,1);x.fillRect(1,1,1,1);
  return _tile=c;
}
function mapHeader(boxY){
  graphic.push({type:'rect',x:47.7,y:boxY,z:-3,silent:true,shape:{width:91,height:23},style:{fill:'#d8f49a',stroke:'#a5a5a5',lineWidth:1}});
  addText(51,boxY+5.5,'Map Diameters',{font:'bold 7.5px '+FONT,fill:'#2a2a2a'});
  addText(55,boxY+15.5,'2.0 / 5.0 / 7.0 / 9.0 mm',{font:'7.5px '+FONT,fill:'#2a2a2a'});
}

// ---------- layout ----------
panelBack(170.7,-2,361,320);
dropdown(184,8.7,333,15.6,'12: 16/03/2018 14:31 - Right - Axial/Sagittal Curvature');
curvPanel(366.7,152.7,12.92,230,289,A_bands,2.55,.17,A_scan);

panelBack(191.7,763,361.3,322);
dropdown(204,772.7,336,16.6,'63: 25/05/2018 14:07 - Right - Axial/Sagittal Curvature');
curvPanel(388.3,917.7,13.04,250.7,1055,D_bands,2,.2,D_scan);

panelBack(191.7,1533,361.3,325);
dropdown(205.7,1544.3,335,16,'115: 19/04/2019 13:50 - Right - Axial/Sagittal Curvature');
curvPanel(389,1689,12.95,252,1826.7,G_bands,2.45,.2,G_scan);

// B / C
colorBar(5.3,404,315,9.7,pachyLevels,pachyShades,20,pachyTickLabels,'µm');
sectorMap(210.7,561.7,620,B_bands,pachyLevels,pachyShades,B_center,B_inner,B_mid,B_outer,[B_hatchN,B_hatchI],[['star',-.5,-.46]]);
mapHeader(371.7);
addText(54.7,402,'Pachymetry Map',{font:'bold 7.5px '+FONT});
addText(347.5,402,'9mm',{font:'bold 7.5px '+FONT});
sectorMap(534,561.7,55,C_bands,epiLevels,epiShades,C_center,C_inner,C_mid,C_outer,[],[['plus',3.05,1.44],['star',-.44,.5]]);
addText(377.5,402,'Epithelium Map',{font:'bold 7.5px '+FONT});
addText(670.5,402,'9mm',{font:'bold 7.5px '+FONT});
colorBar(697,404,315,9.3,epiLevels,epiShades,2.5,epiTickLabels,'µm');

// E / F
colorBar(5.3,1152.7,316,9.7,pachyLevels,pachyShades,20,pachyTickLabels,'µm');
sectorMap(210.7,1310.7,620,E_bands,pachyLevels,pachyShades,E_center,E_inner,E_mid,E_outer,[E_hatchT],[['star',-.62,-.53]]);
mapHeader(1119.3);
addText(54.7,1151,'Pachymetry Map',{font:'bold 7.5px '+FONT});
addText(347.5,1151,'9mm',{font:'bold 7.5px '+FONT});
sectorMap(534.7,1310.7,55,F_bands,epiLevels,epiShades,F_center,F_inner,F_mid,F_outer,[],[['plus',-2.76,-1.16],['tiny',.1,3.4]]);
addText(378,1151,'Epithelium Map',{font:'bold 7.5px '+FONT});
addText(671,1151,'9mm',{font:'bold 7.5px '+FONT});
colorBar(698,1152.7,316,9.3,epiLevels,epiShades,2.5,epiTickLabels,'µm');

// Strong checkbox fragments
[[714,373],[715,1122]].forEach(p=>{
  graphic.push({type:'rect',x:p[0],y:p[1],z:0,silent:true,shape:{width:8,height:8},style:{fill:'#fafafa',stroke:'#9a9a9a',lineWidth:1}});
  addText(p[0]+12.5,p[1]+4,'Stro',{font:'9.5px '+FONT,fill:'#444'});
});
// stray orange crescent at the right edge
graphic.push({type:'polygon',z:0,silent:true,shape:{points:[[724,749.5],[733,745.2],[743,749],[733,747.4]],smooth:.4},style:{fill:'#e8a020'}});

// Panel letters
[['A',134,22],['B',22.5,348.5],['C',345,344],['D',145,772],['E',21,1099],['F',382,1106],['G',140,1522]].forEach(L=>
  addText(L[1],L[2],L[0],{font:'bold 36px '+FONT,fill:'#000'}));

const chart=echarts.init(document.getElementById('c'),null,{renderer:'canvas',width:744,height:1860});
chart.setOption({backgroundColor:'#fff',animation:false,tooltip:{show:false},grid:grids,xAxis:xAxes,yAxis:yAxes,series,graphic:{elements:graphic}});
</script></body></html>
